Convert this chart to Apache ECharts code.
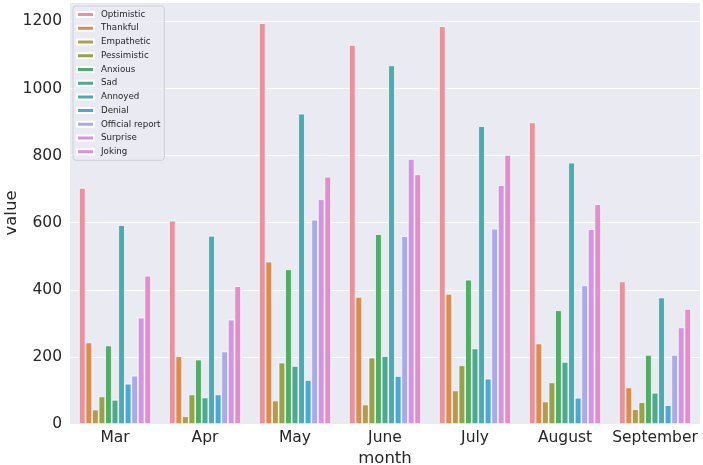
<!DOCTYPE html>
<html>
<head>
<meta charset="utf-8">
<script src="https://cdn.jsdelivr.net/npm/echarts@6/dist/echarts.min.js"></script>
<style>html,body{margin:0;padding:0;background:#fff;}#c{width:703px;height:465px;}</style>
</head>
<body>
<div id="c"></div>
<script>
const months = ['Mar', 'Apr', 'May', 'June', 'July', 'August', 'September'];
const seriesNames = ['Optimistic', 'Thankful', 'Empathetic', 'Pessimistic', 'Anxious', 'Sad', 'Annoyed', 'Denial', 'Official report', 'Surprise', 'Joking'];
const optimistic = [704, 606, 1195, 1130, 1186, 899, 425];
const thankful = [243, 202, 484, 379, 388, 240, 109];
const empathetic = [43, 23, 70, 58, 100, 67, 44];
const pessimistic = [82, 88, 183, 198, 175, 124, 65];
const anxious = [234, 192, 461, 566, 430, 339, 206];
const sad = [72, 79, 173, 202, 225, 185, 93];
const annoyed = [593, 561, 925, 1069, 888, 779, 377];
const denial = [120, 88, 131, 143, 135, 78, 56];
const officialReport = [144, 216, 609, 560, 582, 413, 206];
const surprise = [317, 311, 670, 790, 712, 581, 288];
const joking = [442, 411, 737, 744, 802, 655, 343];
const yTicks = [0, 200, 400, 600, 800, 1000, 1200];

const values = [optimistic, thankful, empathetic, pessimistic, anxious, sad, annoyed, denial, officialReport, surprise, joking];
const colors = ['#e9929d', '#da8d50', '#b39c4a', '#95a247', '#50ad66', '#4ea892', '#4cabb0', '#4da7d3', '#a9abe7', '#d593e3', '#e28ecd'];

const chart = echarts.init(document.getElementById('c'), null, {renderer: 'canvas'});
const font = 'DejaVu Sans';
chart.setOption({
  animation: false,
  backgroundColor: '#ffffff',
  textStyle: {fontFamily: font},
  grid: {left: 70, right: 3, top: 2, bottom: 41, show: true, backgroundColor: '#eaeaf2', borderWidth: 0,
    containLabel: false, outerBoundsMode: 'none'},
  legend: {
    orient: 'vertical',
    left: 73, top: 6,
    padding: [4, 4, 4, 3],
    itemWidth: 17, itemHeight: 5, itemGap: 4.73,
    backgroundColor: 'rgba(234,234,242,0.8)',
    borderColor: '#d0d0d8', borderWidth: 1, borderRadius: 3,
    textStyle: {fontFamily: font, fontSize: 8.7, color: '#262626', padding: [0, 0, 0, 2]},
    icon: 'rect',
    data: seriesNames
  },
  xAxis: {
    type: 'category', data: months,
    name: 'month', nameLocation: 'middle', nameGap: 26, nameMoveOverlap: false,
    nameTextStyle: {fontFamily: font, fontSize: 16.5, color: '#262626'},
    axisLine: {show: false}, axisTick: {show: false},
    axisLabel: {fontFamily: font, fontSize: 15.5, color: '#262626', margin: 6, interval: 0},
    splitLine: {show: false}
  },
  yAxis: {
    type: 'value', min: 0, max: 1258, interval: 200,
    name: 'value', nameLocation: 'middle', nameGap: 50, nameMoveOverlap: false,
    nameTextStyle: {fontFamily: font, fontSize: 16.5, color: '#262626'},
    axisLine: {show: false}, axisTick: {show: false},
    axisLabel: {fontFamily: font, fontSize: 15.5, color: '#262626', margin: 8, showMaxLabel: false,
      formatter: v => yTicks.includes(v) ? String(v) : ''},
    splitLine: {show: true, lineStyle: {color: '#ffffff', width: 1}}
  },
  series: seriesNames.map((n, i) => ({
    name: n, type: 'bar', data: values[i],
    barGap: '0%', barCategoryGap: '20%',
    itemStyle: {color: colors[i], borderColor: '#ffffff', borderWidth: 0.7},
    emphasis: {disabled: true}
  }))
});
</script>
</body>
</html>
